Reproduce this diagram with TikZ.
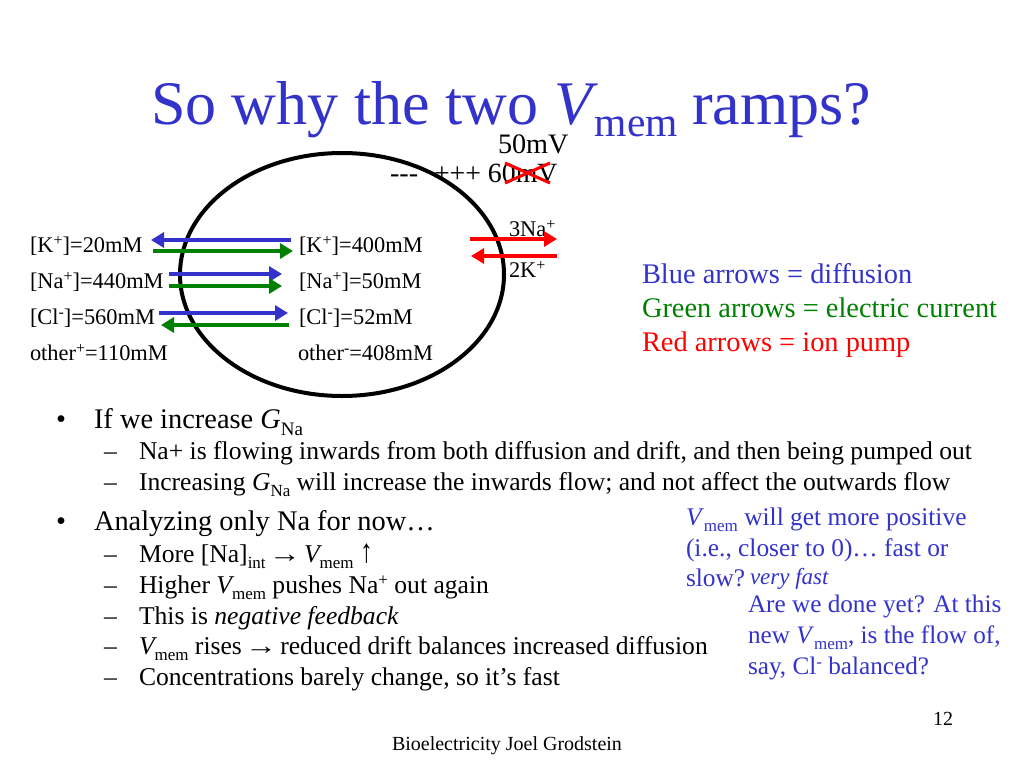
\documentclass[tikz,border=0pt]{standalone}
\usepackage{fontspec}
\setmainfont{Liberation Serif}
\usetikzlibrary{arrows.meta,shapes.geometric}
\definecolor{tblue}{RGB}{51,51,204}
\definecolor{tgreen}{RGB}{0,128,0}
\newcommand{\fs}[1]{\fontsize{#1}{#1}\selectfont}
\newcommand{\lo}[2]{\raisebox{-0.55ex}{\fontsize{#1}{#1}\selectfont #2}}
\newcommand{\hi}[2]{\raisebox{0.6ex}{\fontsize{#1}{#1}\selectfont #2}}
\newcommand{\vm}{\textit{V}\kern-2.5pt\lo{17}{mem}}
\newcommand{\rarr}{\makebox[25.6pt]{\scalebox{1.25}[1]{→}}}
\newcommand{\uarr}{\scalebox{1}[1.3]{↑}}
\tikzset{
  x=1pt,y=-1pt,
  lbl/.style={anchor=base west,inner sep=0pt,outer sep=0pt},
  big/.style={lbl,font=\fs{28.4}},
  sub/.style={lbl,font=\fs{25.6}},
  conc/.style={lbl,font=\fs{22.4}},
  note/.style={lbl,font=\fs{25.4},text=tblue},
  noteb/.style={lbl,font=\fs{25.2},text=tblue},
  arr/.style={line width=4pt,-{Triangle[length=13pt,width=15pt]}},
  bluearr/.style={arr,draw=tblue},
  greenarr/.style={arr,draw=tgreen},
  redarr/.style={arr,draw=red},
  crossline/.style={draw=red,line width=3pt},
}
\begin{document}
\begin{tikzpicture}
\useasboundingbox (0,0) rectangle (1024,768);
\fill[white] (0,0) rectangle (1024,768);
% title
\node[lbl,text=tblue,font=\fs{62}] (title) at (151,124) {So why the two \textit{V}\kern-3pt\raisebox{-12pt}{\fs{41.5}mem}\kern-1pt{} ramps?};
% cell
\node[draw=black,line width=4pt,ellipse,minimum width=324pt,minimum height=243pt,inner sep=0pt] (cell) at (342,274.5) {};
% potential
\node[lbl,font=\fs{28.2}] (v50) at (498,153) {50mV};
\node[lbl,font=\fs{28.2}] (vminus) at (390,182) {\mbox{-}\mbox{-}\mbox{-}};
\node[lbl,font=\fs{27.8}] (v60) at (434,182) {+++ 60mV};
\coordinate (xa) at (505,163); \coordinate (xb) at (550,183);
\coordinate (xc) at (505,183); \coordinate (xd) at (550,163);
\draw[crossline] (xa) -- (xb);
\draw[crossline] (xc) -- (xd);
% left concentrations
\node[conc] (ko) at (30,252) {[K\hi{16}{+}]=20mM};
\node[conc] (nao) at (30,288) {[Na\hi{16}{+}]=440mM};
\node[conc] (clo) at (30,324) {[Cl\hi{16}{-}]=560mM};
\node[conc] (oo) at (30,360) {other\hi{16}{+}=110mM};
% right concentrations
\node[conc] (ki) at (299,252) {[K\hi{16}{+}]=400mM};
\node[conc] (nai) at (299,288) {[Na\hi{16}{+}]=50mM};
\node[conc] (cli) at (299,324) {[Cl\hi{16}{-}]=52mM};
\node[conc] (oi) at (298,360) {other\hi{16}{-}=408mM};
% arrows
\coordinate (a1s) at (291,240); \coordinate (a1e) at (151,240);
\coordinate (a2s) at (153,251); \coordinate (a2e) at (293,251);
\coordinate (a3s) at (169,274); \coordinate (a3e) at (282,274);
\coordinate (a4s) at (169,286); \coordinate (a4e) at (282,286);
\coordinate (a5s) at (159,313); \coordinate (a5e) at (288,313);
\coordinate (a6s) at (289,325); \coordinate (a6e) at (161,325);
\draw[bluearr] (a1s) -- (a1e);
\draw[greenarr] (a2s) -- (a2e);
\draw[bluearr] (a3s) -- (a3e);
\draw[greenarr] (a4s) -- (a4e);
\draw[bluearr] (a5s) -- (a5e);
\draw[greenarr] (a6s) -- (a6e);
% pump
\node[conc] (na3) at (509,236) {3Na\hi{16}{+}};
\node[conc] (k2) at (509,277) {2K\hi{16}{+}};
\coordinate (r1s) at (470,239); \coordinate (r1e) at (557,239);
\coordinate (r2s) at (557,256); \coordinate (r2e) at (471,256);
\draw[redarr] (r1s) -- (r1e);
\draw[redarr] (r2s) -- (r2e);
% legend
\node[lbl,font=\fs{28.4},text=tblue] (leg1) at (642,283) {Blue arrows = diffusion};
\node[lbl,font=\fs{28.4},text=tgreen] (leg2) at (642,317) {Green arrows = electric current};
\node[lbl,font=\fs{28.4},text=red] (leg3) at (642,351) {Red arrows = ion pump};
% bullets
\node[big] (b1d) at (56,428) {•};
\node[big] (b1) at (94,428) {If we increase \textit{G}\lo{19}{Na}};
\node[sub] (s1d) at (104,459) {–};
\node[sub] (s1) at (139,459) {Na+ is flowing inwards from both diffusion and drift, and then being pumped out};
\node[sub] (s2d) at (104,490) {–};
\node[sub] (s2) at (139,490) {Increasing \textit{G}\lo{17}{Na} will increase the inwards flow; and not affect the outwards flow};
\node[big] (b2d) at (56,530) {•};
\node[big] (b2) at (94,530) {Analyzing only Na for now…};
\node[sub] (s3d) at (104,562) {–};
\node[sub] (s3) at (139,562) {More [Na]\lo{17}{int} \rarr{} \vm{} \uarr};
\node[sub] (s4d) at (104,593) {–};
\node[sub] (s4) at (139,593) {Higher \vm{} pushes Na\hi{17}{+} out again};
\node[sub] (s5d) at (104,624) {–};
\node[sub] (s5) at (139,624) {This is \textit{negative feedback}};
\node[sub] (s6d) at (104,654) {–};
\node[sub] (s6) at (139,654) {\vm{} rises \rarr{} reduced drift balances increased diffusion};
\node[sub] (s7d) at (104,685) {–};
\node[sub] (s7) at (139,685) {Concentrations barely change, so it’s fast};
% notes
\node[note] (n1) at (686,525) {\textit{V}\lo{17}{mem} will get more positive};
\node[note] (n2) at (686,556) {(i.e., closer to 0)… fast or};
\node[note] (n3) at (686,586) {slow?};
\node[lbl,font=\fs{23},text=tblue] (n3b) at (750,584) {\textit{very fast}};
\node[noteb] (n4) at (748,612) {Are we done yet? At this};
\node[noteb] (n5) at (748,643) {new \textit{V}\lo{17}{mem}, is the flow of,};
\node[noteb] (n6) at (748,674) {say, Cl\hi{17}{-} balanced?};
% footer
\node[lbl,font=\fs{20}] (foot) at (392,750) {Bioelectricity Joel Grodstein};
\node[lbl,font=\fs{20}] (pg) at (933,725) {12};
\end{tikzpicture}
\end{document}
